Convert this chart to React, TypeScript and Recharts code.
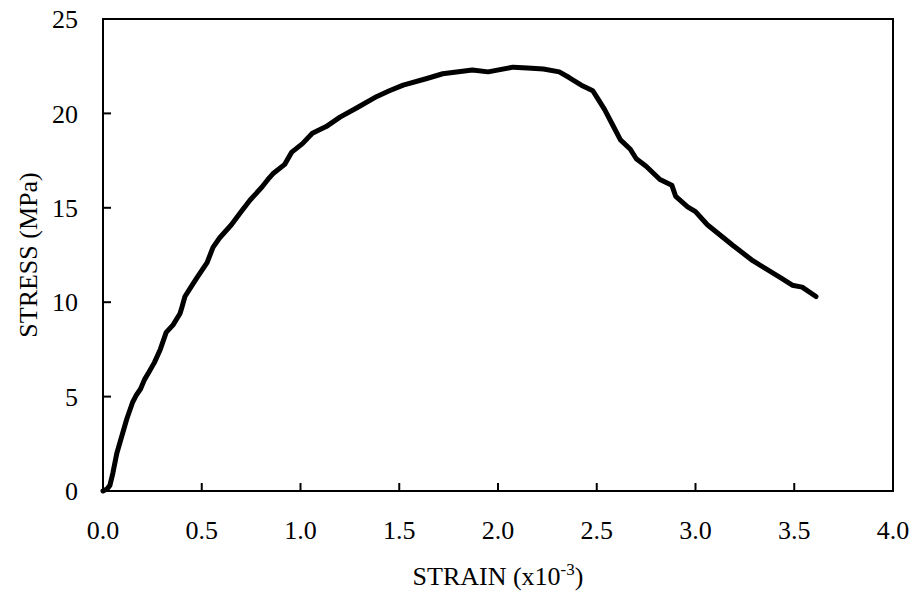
import { Line, LineChart, ReferenceArea, XAxis, YAxis } from "recharts";

// strain (x10^-3) and stress (MPa)
const strain = [
  0, 0.02, 0.035, 0.05, 0.07, 0.095, 0.12, 0.15, 0.17, 0.19, 0.21, 0.23, 0.26,
  0.29, 0.32, 0.355, 0.39, 0.4, 0.415, 0.445, 0.476, 0.527, 0.557, 0.59, 0.65,
  0.7, 0.744, 0.805, 0.835, 0.86, 0.92, 0.956, 1.01, 1.06, 1.13, 1.2, 1.286,
  1.387, 1.45, 1.52, 1.64, 1.72, 1.87, 1.95, 2.076, 2.15, 2.23, 2.31, 2.36,
  2.43, 2.48, 2.51, 2.54, 2.58, 2.62, 2.67, 2.7, 2.75, 2.82, 2.88, 2.9, 2.96,
  3.0, 3.06, 3.19, 3.29, 3.43, 3.49, 3.54, 3.61,
];
const stress = [
  0, 0.1, 0.3, 0.95, 2.0, 2.9, 3.8, 4.7, 5.1, 5.4, 5.9, 6.25, 6.8, 7.5, 8.4,
  8.8, 9.4, 9.75, 10.3, 10.8, 11.3, 12.1, 12.9, 13.4, 14.1, 14.8, 15.4, 16.1,
  16.5, 16.8, 17.3, 17.95, 18.4, 18.95, 19.3, 19.8, 20.3, 20.9, 21.2, 21.5,
  21.85, 22.1, 22.3, 22.2, 22.45, 22.4, 22.35, 22.2, 21.9, 21.45, 21.2, 20.7,
  20.2, 19.4, 18.6, 18.1, 17.6, 17.2, 16.5, 16.2, 15.6, 15.05, 14.8, 14.1,
  13.0, 12.2, 11.3, 10.9, 10.8, 10.3,
];
const xTicks = [0, 0.5, 1, 1.5, 2, 2.5, 3, 3.5, 4];
const yTicks = [0, 5, 10, 15, 20, 25];

const data = strain.map((s, i) => ({ strain: s, stress: stress[i] }));

const FONT = "'Liberation Serif', 'Times New Roman', serif";
const tickStyle = { fill: "#000", fontSize: 26, fontFamily: FONT };
const axisLine = { stroke: "#000", strokeWidth: 2 };

function XLabel({ viewBox }: any) {
  const cx = viewBox.x + viewBox.width / 2;
  return (
    <text
      x={cx}
      y={585}
      textAnchor="middle"
      fontFamily={FONT}
      fontSize={26}
      fill="#000"
    >
      STRAIN (x10
      <tspan dy={-10} fontSize={17}>
        -3
      </tspan>
      <tspan dy={10}>)</tspan>
    </text>
  );
}

function YLabel({ viewBox }: any) {
  const cy = viewBox.y + viewBox.height / 2;
  return (
    <text
      x={37}
      y={cy}
      transform={`rotate(-90, 37, ${cy})`}
      textAnchor="middle"
      fontFamily={FONT}
      fontSize={26}
      fill="#000"
    >
      STRESS (MPa)
    </text>
  );
}

export default function App() {
  return (
    <div style={{ position: "absolute", left: 0, top: 0, background: "#fff" }}>
      <LineChart
        width={914}
        height={602}
        data={data}
        margin={{ top: 19, right: 21, bottom: 21, left: 0 }}
      >
        <XAxis
          dataKey="strain"
          type="number"
          domain={[0, 4]}
          ticks={xTicks}
          tickFormatter={(v: number) => v.toFixed(1)}
          tick={tickStyle}
          axisLine={axisLine}
          tickLine={{ stroke: "#000", strokeWidth: 2 }}
          tickSize={-8}
          tickMargin={38}
          height={90}
          interval={0}
          label={<XLabel />}
        />
        <YAxis
          type="number"
          domain={[0, 25]}
          ticks={yTicks}
          tick={tickStyle}
          axisLine={axisLine}
          tickLine={{ stroke: "#000", strokeWidth: 2 }}
          tickSize={-8}
          tickMargin={33}
          width={103}
          interval={0}
          label={<YLabel />}
        />
        <ReferenceArea
          x1={0}
          x2={4}
          y1={0}
          y2={25}
          fill="none"
          fillOpacity={0}
          stroke="#000"
          strokeWidth={2}
          strokeOpacity={1}
        />
        <Line
          type="linear"
          dataKey="stress"
          stroke="#000"
          strokeWidth={5}
          strokeLinejoin="round"
          strokeLinecap="round"
          dot={false}
          isAnimationActive={false}
        />
      </LineChart>
    </div>
  );
}
